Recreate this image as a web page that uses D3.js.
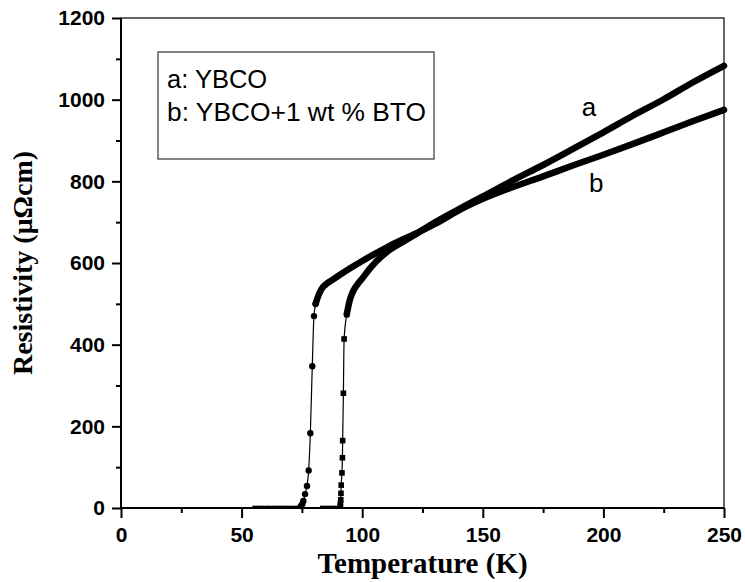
<!DOCTYPE html>
<html>
<head>
<meta charset="utf-8">
<script src="https://cdn.jsdelivr.net/npm/d3@7"></script>
<style>
  html, body { margin: 0; padding: 0; background: #fff; }
  svg { display: block; }
</style>
</head>
<body>
<svg id="chart" width="745" height="582"></svg>
<script>
// ---- Data ----
// Series a: YBCO (square markers)
const aFlatT = [83, 84, 85, 86, 87, 88, 89, 90, 90.6];
const aFlatR = [3, 3, 3, 3, 3, 3, 3, 3, 3];
const aTransT = [90.9, 91.0, 91.1, 91.2, 91.3, 91.6, 91.8, 91.9, 92.2, 92.5, 93.6];
const aTransR = [5, 10, 20, 36, 56, 86, 123, 165, 281, 414, 474];
const aNormT = [93.6, 94.3, 95, 96, 97.7, 100, 103, 106, 110, 117, 122.6, 130, 142, 150, 162, 175, 187, 200, 212, 225, 237, 250];
const aNormR = [474, 495, 512, 528, 545, 562, 585, 605, 626, 652, 672, 699, 738, 763, 801, 840, 878, 920, 960, 1001, 1042, 1083];

// Series b: YBCO+1 wt % BTO (circle markers)
const bFlatT = [55, 56, 57, 58, 59, 60, 61, 62, 63, 64, 65, 66, 67, 68, 69, 70, 71, 72, 73, 74];
const bFlatR = [3, 3, 3, 3, 3, 3, 3, 3, 3, 3, 3, 3, 3, 3, 3, 3, 3, 3, 3, 3];
const bTransT = [74.6, 75.2, 75.6, 76.3, 77.1, 77.8, 78.5, 79.3, 80.0, 80.7];
const bTransR = [5, 10, 17, 34, 54, 92, 183, 347, 470, 500];
const bNormT = [80.7, 81.5, 83, 85, 87.5, 90, 95, 100, 107, 114, 122.6, 130, 142, 150, 162, 175, 187, 200, 212, 225, 237, 250];
const bNormR = [500, 515, 535, 548, 558, 568, 587, 605, 628, 650, 673, 695, 735, 757, 785, 812, 838, 865, 891, 920, 947, 975];

// Axis ticks
const xTicksMajor = [0, 50, 100, 150, 200, 250];
const xTicksMinor = [25, 75, 125, 175, 225];
const yTicksMajor = [0, 200, 400, 600, 800, 1000, 1200];
const yTicksMinor = [100, 300, 500, 700, 900, 1100];

const legendLines = ["a: YBCO", "b: YBCO+1 wt % BTO"];
const curveLabels = [
  { text: "a", T: 194, R: 960 },
  { text: "b", T: 197, R: 773 }
];

// ---- Layout ----
const L = 121, R = 724, T = 18, B = 508;
const svg = d3.select("#chart");
const x = d3.scaleLinear().domain([0, 250]).range([L, R]);
const y = d3.scaleLinear().domain([0, 1200]).range([B, T]);

const zip = (ts, rs) => ts.map((t, i) => ({ t, r: rs[i] }));
const line = d3.line().x(d => x(d.t)).y(d => y(d.r)).curve(d3.curveMonotoneX);

// frame (top & right)
svg.append("rect")
  .attr("x", L).attr("y", T).attr("width", R - L).attr("height", B - T)
  .attr("fill", "none").attr("stroke", "#000").attr("stroke-width", 1.2);

// axes
const tickFont = "'Liberation Sans', Arial, sans-serif";
const yAxis = d3.axisLeft(y).tickValues(yTicksMajor).tickSize(9).tickPadding(7).tickFormat(d3.format("d"));
const yAxisMinor = d3.axisLeft(y).tickValues(yTicksMinor).tickSize(5).tickFormat("");
const xAxis = d3.axisBottom(x).tickValues(xTicksMajor).tickSize(10).tickPadding(9).tickFormat(d3.format("d"));
const xAxisMinor = d3.axisBottom(x).tickValues(xTicksMinor).tickSize(5).tickFormat("");

function styleAxis(g) {
  g.select(".domain").remove();
  g.selectAll(".tick line").attr("stroke", "#000").attr("stroke-width", 2);
  g.selectAll(".tick text")
    .attr("fill", "#000")
    .style("font-family", tickFont)
    .style("font-weight", "bold")
    .style("font-size", "21px");
}
svg.append("g").attr("transform", `translate(${L},0)`).call(yAxis).call(styleAxis);
svg.append("g").attr("transform", `translate(${L},0)`).call(yAxisMinor).call(styleAxis);
svg.append("g").attr("transform", `translate(0,${B})`).call(xAxis).call(styleAxis);
svg.append("g").attr("transform", `translate(0,${B})`).call(xAxisMinor).call(styleAxis);

// axis lines (thicker left & bottom)
svg.append("line").attr("x1", L).attr("x2", L).attr("y1", T).attr("y2", B + 1)
  .attr("stroke", "#000").attr("stroke-width", 2);
svg.append("line").attr("x1", L - 1).attr("x2", R).attr("y1", B).attr("y2", B)
  .attr("stroke", "#000").attr("stroke-width", 2);

// ---- Series ----
function drawSeries(flat, trans, norm, marker) {
  const all = flat.concat(trans, norm.slice(1));
  const g = svg.append("g");
  g.append("path").attr("d", line(all)).attr("fill", "none")
    .attr("stroke", "#000").attr("stroke-width", 1.2);
  g.append("path").attr("d", line(norm)).attr("fill", "none")
    .attr("stroke", "#000").attr("stroke-width", 6.5)
    .attr("stroke-linecap", "round").attr("stroke-linejoin", "round");
  g.selectAll(".flat").data(flat).enter().append("circle")
    .attr("cx", d => x(d.t)).attr("cy", d => y(d.r)).attr("r", 1.4).attr("fill", "#000");
  if (marker === "square") {
    const s = 5.6;
    g.selectAll(".mk").data(trans).enter().append("rect")
      .attr("x", d => x(d.t) - s / 2).attr("y", d => y(d.r) - s / 2)
      .attr("width", s).attr("height", s).attr("fill", "#000");
  } else {
    g.selectAll(".mk").data(trans).enter().append("circle")
      .attr("cx", d => x(d.t)).attr("cy", d => y(d.r)).attr("r", 3.2).attr("fill", "#000");
  }
}
drawSeries(zip(bFlatT, bFlatR), zip(bTransT, bTransR), zip(bNormT, bNormR), "circle");
drawSeries(zip(aFlatT, aFlatR), zip(aTransT, aTransR), zip(aNormT, aNormR), "square");

// curve labels
svg.selectAll(".clabel").data(curveLabels).enter().append("text")
  .attr("x", d => x(d.T)).attr("y", d => y(d.R))
  .attr("text-anchor", "middle")
  .style("font-family", tickFont).style("font-size", "26px").attr("fill", "#000")
  .text(d => d.text);

// legend
svg.append("rect").attr("x", 158).attr("y", 52).attr("width", 276).attr("height", 107)
  .attr("fill", "#fff").attr("stroke", "#333").attr("stroke-width", 1.2);
svg.selectAll(".leg").data(legendLines).enter().append("text")
  .attr("x", 167).attr("y", (d, i) => 88 + i * 33)
  .style("font-family", tickFont).style("font-size", "25.5px").attr("fill", "#000")
  .attr("textLength", (d, i) => i === 1 ? 259 : null)
  .attr("lengthAdjust", "spacingAndGlyphs")
  .text(d => d);

// axis titles
const titleFont = "'Liberation Serif', 'Times New Roman', serif";
svg.append("text")
  .attr("x", (L + R) / 2).attr("y", 573)
  .attr("text-anchor", "middle")
  .style("font-family", titleFont).style("font-weight", "bold").style("font-size", "29px")
  .text("Temperature (K)");
svg.append("text")
  .attr("transform", `translate(32,${(T + B) / 2}) rotate(-90)`)
  .attr("text-anchor", "middle")
  .style("font-family", titleFont).style("font-weight", "bold").style("font-size", "28px")
  .text("Resistivity (μΩcm)");
</script>
</body>
</html>
